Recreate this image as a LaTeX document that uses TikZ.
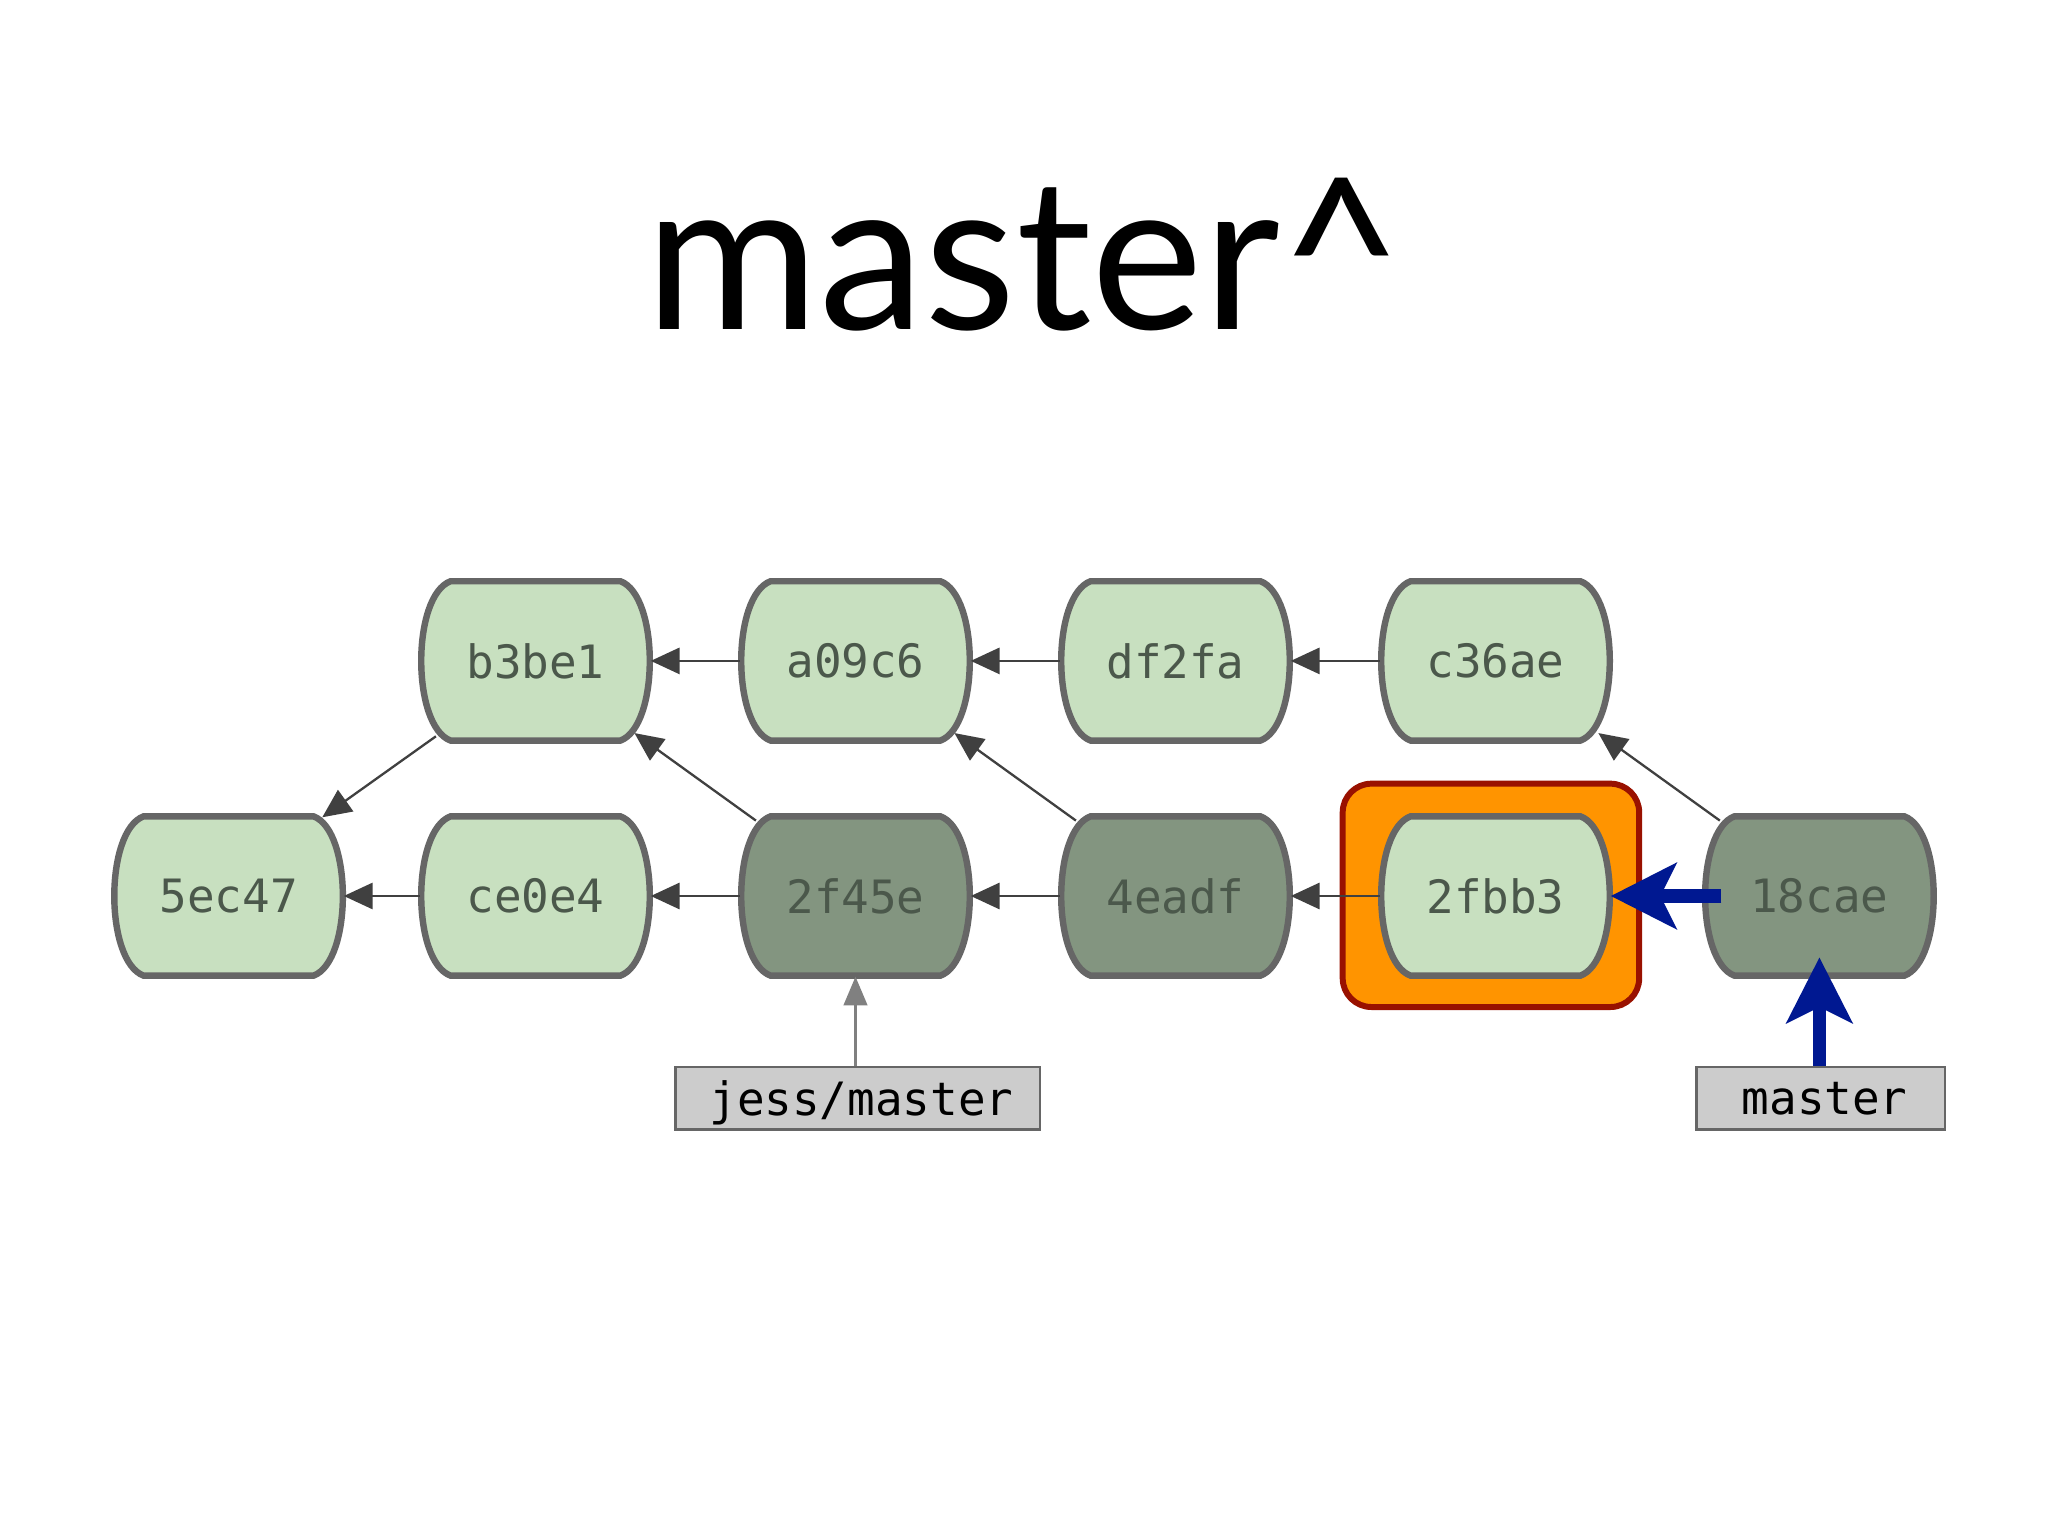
\documentclass[tikz,border=0pt]{standalone}
\usepackage{fontspec}
\setmainfont{Lato}
\newfontfamily\mono{DejaVu Sans Mono}
\usetikzlibrary{arrows.meta}
\definecolor{lg}{RGB}{200,224,192}
\definecolor{dg}{RGB}{131,149,128}
\definecolor{st}{RGB}{102,102,102}
\definecolor{tx}{RGB}{75,88,75}
\definecolor{blu}{RGB}{0,24,145}
\definecolor{org}{RGB}{255,148,0}
\definecolor{drd}{RGB}{153,17,0}
\tikzset{
 cnode/.style={minimum width=1.75cm,minimum height=1.22cm,inner sep=0pt,font=\mono\fontsize{10}{12}\selectfont,text=tx},
 ed/.style={draw=black!75,line width=0.5pt,-{Triangle[length=2.2mm,width=2mm]}},
 bl/.style={draw=blu,line width=2.9pt,-{Stealth[length=5mm,width=5mm,inset=1.2mm]}},
 lab/.style={draw=st,fill=black!20,line width=0.6pt,minimum height=0.48cm,inner sep=0pt,anchor=west,font=\mono\fontsize{10}{12}\selectfont,text=black,text depth=0pt}
}
\newcommand\commit[5]{%
 \path[fill=#5,draw=st,line width=1.4pt] (#2-65,#3-61) -- (#2+65,#3-61) .. controls (#2+95,#3-50) and (#2+95,#3+50) .. (#2+65,#3+61) -- (#2-65,#3+61) .. controls (#2-95,#3+50) and (#2-95,#3-50) .. (#2-65,#3-61) -- cycle;
 \node[cnode] (#1) at (#2,#3) {#4};}
\begin{document}
\begin{tikzpicture}[x=0.01cm,y=-0.01cm]
\useasboundingbox[fill=white] (0,0) rectangle (1568,1176);
\node[font=\fontsize{46}{50}\selectfont] (title) at (784,195) {master\^{}};
\draw[fill=org,draw=drd,line width=1.3pt,rounded corners=0.22cm] (1028,600) rectangle (1255,771);
\commit{b3be1}{410}{506}{b3be1}{lg}
\commit{a09c6}{655}{506}{a09c6}{lg}
\commit{df2fa}{900}{506}{df2fa}{lg}
\commit{c36ae}{1145}{506}{c36ae}{lg}
\commit{5ec47}{175}{686}{5ec47}{lg}
\commit{ce0e4}{410}{686}{ce0e4}{lg}
\commit{2f45e}{655}{686}{2f45e}{dg}
\commit{4eadf}{900}{686}{4eadf}{dg}
\commit{2fbb3}{1145}{686}{2fbb3}{lg}
\commit{18cae}{1393}{686}{18cae}{dg}
\draw[ed] (a09c6.west) -- (b3be1.east);
\draw[ed] (df2fa.west) -- (a09c6.east);
\draw[ed] (c36ae.west) -- (df2fa.east);
\draw[ed] (ce0e4.west) -- (5ec47.east);
\draw[ed] (2f45e.west) -- (ce0e4.east);
\draw[ed] (4eadf.west) -- (2f45e.east);
\draw[ed] (2fbb3.west) -- (4eadf.east);
\draw[ed] (b3be1.south west)++(12,-4) -- ++(-87,62);
\draw[ed] (2f45e.north west)++(12,4) -- ++(-93,-67);
\draw[ed] (4eadf.north west)++(12,4) -- ++(-93,-67);
\draw[ed] (18cae.north west)++(12,4) -- ++(-93,-67);
\node[lab,minimum width=2.79cm] (jm) at (516,841) {\,jess/master};
\node[lab,minimum width=1.9cm] (m) at (1298,841) {\,master};
\draw[draw=black!50,line width=0.6pt,-{Triangle[length=2.2mm,width=1.8mm]}] (jm.north -| 2f45e.south) -- (2f45e.south);
\draw[bl] (1318,686) -- (2fbb3.east);
\draw[bl] (m.north -| 18cae.south) -- (1393,733);
\end{tikzpicture}
\end{document}
